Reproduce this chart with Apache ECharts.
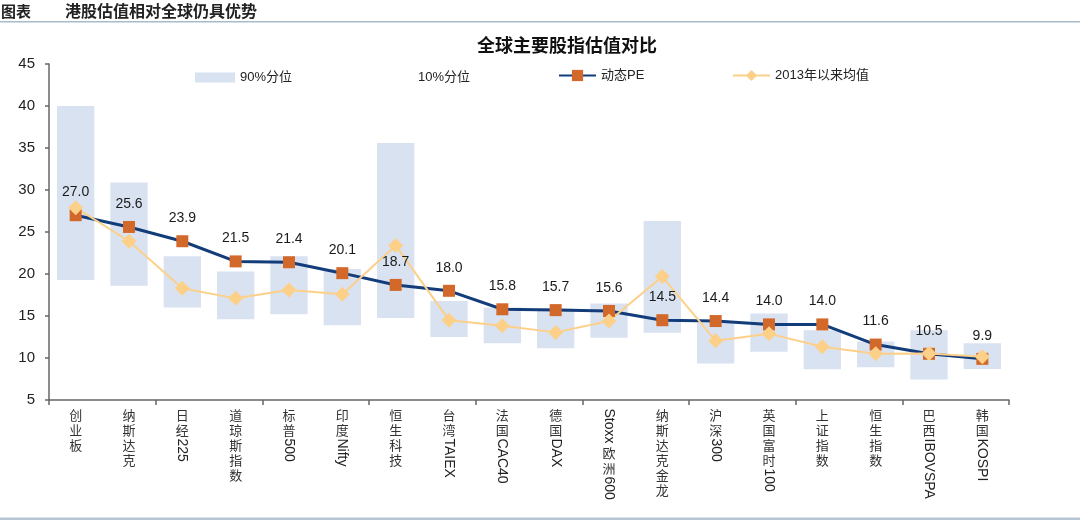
<!DOCTYPE html>
<html>
<head>
<meta charset="utf-8">
<script src="https://cdn.jsdelivr.net/npm/echarts@6/dist/echarts.min.js"></script>
<style>
html,body{margin:0;padding:0;background:#fff;}
#main{width:1080px;height:521px;}
</style>
</head>
<body>
<div id="main"></div>
<script>
const categories = ['创业板','纳斯达克','日经225','道琼斯指数','标普500','印度Nifty','恒生科技','台湾TAIEX','法国CAC40','德国DAX','Stoxx欧洲600','纳斯达克金龙','沪深300','英国富时100','上证指数','恒生指数','巴西IBOVSPA','韩国KOSPI'];
const pe = [27.0,25.6,23.9,21.5,21.4,20.1,18.7,18.0,15.8,15.7,15.6,14.5,14.4,14.0,14.0,11.6,10.5,9.9];
const avg2013 = [27.9,23.9,18.3,17.1,18.1,17.6,23.4,14.5,13.85,13.05,14.4,19.7,12.05,12.9,11.35,10.5,10.55,10.15];
const p90 = [40.0,30.9,22.1,20.3,22.1,20.6,35.6,16.8,16.0,15.9,16.5,26.3,14.2,15.3,13.3,11.95,13.3,11.75];
const p10 = [19.3,18.6,16.0,14.6,15.2,13.9,14.75,12.5,11.75,11.15,12.4,13.0,9.35,10.75,8.65,8.9,7.45,8.7];
const yTicks = {min:5, max:45, interval:5};

const LATIN = '"Liberation Sans", Arial, sans-serif';
const CJK = '"Noto Sans CJK SC", sans-serif';
const band = p90.map((v,i)=> +(v - p10[i]).toFixed(2));

const chart = echarts.init(document.getElementById('main'));
const legendText = {fontSize:13, color:'#222', fontFamily: LATIN + ',' + CJK};
chart.setOption({
  animation:false,
  grid:{left:49,right:71,top:64,bottom:121,outerBoundsMode:'none'},
  legend:[
    {data:[{name:'90%分位',icon:'rect'}],left:190,top:66,itemWidth:40,itemHeight:10,textStyle:legendText},
    {data:[{name:'10%分位',icon:'rect'}],left:368,top:66,itemWidth:40,itemHeight:10,textStyle:legendText},
    {data:['动态PE'],left:553,top:64,itemWidth:37,itemHeight:14,textStyle:legendText},
    {data:['2013年以来均值'],left:727,top:64,itemWidth:37,itemHeight:14,textStyle:legendText}
  ],
  xAxis:{type:'category',data:categories,z:10,
    axisLine:{lineStyle:{color:'#666',width:1.5}},
    axisTick:{show:true,length:5,lineStyle:{color:'#666',width:1.5}},
    axisLabel:{show:false}},
  yAxis:{type:'value',min:yTicks.min,max:yTicks.max,interval:yTicks.interval,z:10,
    axisLine:{show:true,lineStyle:{color:'#666',width:1.5}},
    axisTick:{show:true,length:4,lineStyle:{color:'#666',width:1.5}},
    splitLine:{show:false},
    axisLabel:{fontSize:15,color:'#222',fontFamily:LATIN,margin:14}},
  series:[
    {name:'10%分位',type:'bar',stack:'b',data:p10,barWidth:'70%',itemStyle:{color:'rgba(255,255,255,0)'},silent:true},
    {name:'90%分位',type:'bar',stack:'b',data:band,barWidth:'70%',itemStyle:{color:'#d9e2f1'}},
    {name:'动态PE',type:'line',data:pe,symbol:'rect',symbolSize:12,
      lineStyle:{color:'#123d7a',width:3},itemStyle:{color:'#d2692a'},
      label:{show:true,position:'top',distance:10,fontSize:14,color:'#1a1a1a',fontFamily:LATIN,
        formatter:p=>p.value.toFixed(1)}},
    {name:'2013年以来均值',type:'line',data:avg2013,symbol:'diamond',symbolSize:15,
      lineStyle:{color:'#fdd08a',width:2},itemStyle:{color:'#fdd08a'}}
  ]
});

// axis labels: stacked CJK characters, Latin runs rotated (vertical text)
const cv = document.createElement('canvas').getContext('2d');
function measure(t,font){cv.font=font;return cv.measureText(t).width;}
const graphics = [];
const axisY = chart.convertToPixel({yAxisIndex:0}, yTicks.min);
const slot = 15;
const latinFont = '14px ' + LATIN;
categories.forEach((c,i)=>{
  const x = chart.convertToPixel({xAxisIndex:0}, i);
  let cur = axisY + 7.5;
  const runs = c.match(/[\u4e00-\u9fff]|[^\u4e00-\u9fff]+/g);
  runs.forEach(r=>{
    if (/[\u4e00-\u9fff]/.test(r)) {
      graphics.push({type:'text',x:x,y:cur+slot/2,style:{text:r,font:'13px '+CJK,fill:'#333',align:'center',verticalAlign:'middle'}});
      cur += slot;
    } else {
      const w = measure(r, latinFont);
      graphics.push({type:'text',x:x,y:cur+w/2+1,rotation:-Math.PI/2,style:{text:r,font:latinFont,fill:'#222',align:'center',verticalAlign:'middle'}});
      cur += w + 3;
    }
  });
});
// header, title and rules
graphics.push({type:'text',x:1,y:11,style:{text:'图表',font:'bold 15px '+CJK,fill:'#222',verticalAlign:'middle'}});
graphics.push({type:'text',x:65,y:11,style:{text:'港股估值相对全球仍具优势',font:'bold 16px '+CJK,fill:'#222',verticalAlign:'middle'}});
graphics.push({type:'rect',shape:{x:0,y:21,width:1080,height:1.5},style:{fill:'#a9bacd'}});
graphics.push({type:'rect',shape:{x:0,y:517.5,width:1080,height:2.5},style:{fill:'#b7c6d5'}});
graphics.push({type:'text',x:567,y:45,style:{text:'全球主要股指估值对比',font:'bold 18px '+CJK,fill:'#111',align:'center',verticalAlign:'middle'}});
chart.setOption({graphic:graphics});
</script>
</body>
</html>
